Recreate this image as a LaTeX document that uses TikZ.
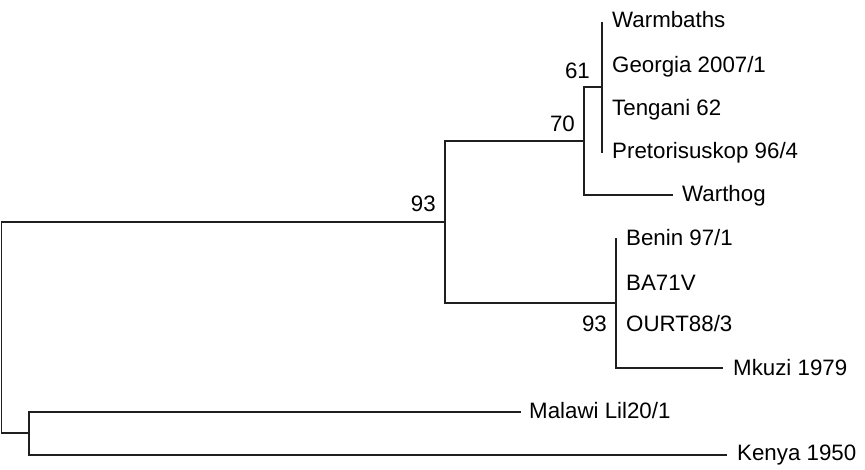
\documentclass[tikz,border=0pt]{standalone}
\usepackage{fontspec}
\setmainfont{Liberation Sans}
\begin{document}
\begin{tikzpicture}[x=1pt,y=-1pt,
  branch/.style={draw=black!88,line width=1.4pt},
  taxon/.style={anchor=base west,inner sep=0pt,font=\fontsize{22.3}{24}\selectfont},
  support/.style={anchor=base east,inner sep=0pt,font=\fontsize{22.3}{24}\selectfont}]
\useasboundingbox (0,0) rectangle (865,469);
% internal nodes
\coordinate (root) at (1.5,222);
\coordinate (nA) at (445,222);    % 93 clade
\coordinate (nB) at (584,141);    % 70 clade
\coordinate (nC) at (602,87);     % 61 clade
\coordinate (nD) at (616,303);    % lower 93 clade
\coordinate (nE) at (29,433);     % Malawi + Kenya
% tips
\coordinate (tWarm) at (602,22);
\coordinate (tPret) at (602,153);
\coordinate (tWart) at (673,195);
\coordinate (tBen) at (616,238);
\coordinate (tMku) at (723,368);
\coordinate (tMal) at (521,412);
\coordinate (tKen) at (727,455);
% branches
\draw[branch] (nA) -- (root |- nA) -- (root |- nE) -- (nE);
\draw[branch] (nB) -- (nA |- nB) -- (nA |- nD) -- (nD);
\draw[branch] (nC) -- (nB |- nC) -- (nB |- tWart) -- (tWart);
\draw[branch] (tWarm) -- (tPret);
\draw[branch] (tBen) -- (tBen |- tMku) -- (tMku);
\draw[branch] (tMal) -- (nE |- tMal) -- (nE |- tKen) -- (tKen);
% taxon labels
\node[taxon] (lWarm) at (612,27) {Warmbaths};
\node[taxon] (lGeo) at (612,72) {Georgia 2007/1};
\node[taxon] (lTen) at (612,115) {Tengani 62};
\node[taxon] (lPre) at (612,158) {Pretorisuskop 96/4};
\node[taxon] (lWart) at (682,201) {Warthog};
\node[taxon] (lBen) at (626,245) {Benin 97/1};
\node[taxon] (lBA) at (626,290) {BA71V};
\node[taxon] (lOU) at (626,331) {OURT88/3};
\node[taxon] (lMku) at (733,375) {Mkuzi 1979};
\node[taxon] (lMal) at (529,418) {Malawi Lil20/1};
\node[taxon] (lKen) at (737,460) {Kenya 1950};
% bootstrap support values
\node[support] (s61) at (590,78) {61};
\node[support] (s70) at (575,131) {70};
\node[support] (s93a) at (436,211) {93};
\node[support] (s93b) at (607,331) {93};
\end{tikzpicture}
\end{document}
